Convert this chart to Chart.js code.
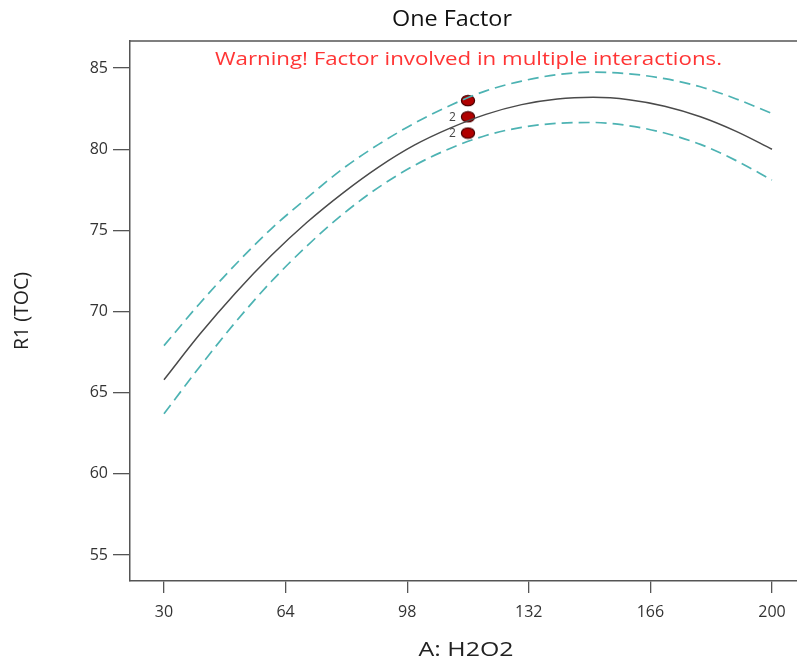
<!DOCTYPE html>
<html>
<head>
<meta charset="utf-8">
<script src="https://cdn.jsdelivr.net/npm/chart.js@4/dist/chart.umd.min.js"></script>
<style>
  html, body { margin: 0; padding: 0; background: #fff; }
  #wrap { width: 797px; height: 660px; }
</style>
</head>
<body>
<div id="wrap"><canvas id="myChart" width="797" height="660"></canvas></div>
<script>
// H2O2 dose along the x axis
const xValues = [30, 40, 50, 60, 70, 80, 90, 100, 110, 120, 130, 140, 150, 160, 170, 180, 190, 200];
// predicted TOC removal and the 95% band around it
const fitValues = [65.8, 68.6, 71.15, 73.45, 75.5, 77.3, 78.9, 80.25, 81.3, 82.15, 82.75, 83.1, 83.2, 83.05, 82.65, 82.0, 81.1, 80.0];
const upperValues = [67.9, 70.5, 72.9, 75.1, 77.0, 78.8, 80.3, 81.6, 82.7, 83.6, 84.2, 84.6, 84.75, 84.65, 84.35, 83.85, 83.1, 82.2];
const lowerValues = [63.7, 66.6, 69.35, 71.85, 74.05, 76.0, 77.65, 79.0, 80.05, 80.85, 81.35, 81.6, 81.65, 81.45, 81.0, 80.3, 79.3, 78.1];
// design runs (repeated runs share a point, count shown next to it)
const runX = [115, 115, 115];
const runY = [83, 82, 81];
const runCount = [1, 2, 2];

const xTicks = [30, 64, 98, 132, 166, 200];
const yTicks = [55, 60, 65, 70, 75, 80, 85];

const FONT = "'Open Sans', 'Noto Sans', sans-serif";
const AXIS_COLOR = '#555';
const BAND_COLOR = '#4db3b3';

const toPoints = (xs, ys) => xs.map((x, i) => ({ x: x, y: ys[i] }));

// red oval marker for the runs
const runMarker = (() => {
  const c = document.createElement('canvas');
  c.width = 16;
  c.height = 13;
  const g = c.getContext('2d');
  g.beginPath();
  g.ellipse(8, 6.5, 6.6, 5.2, 0, 0, Math.PI * 2);
  g.fillStyle = '#b00000';
  g.fill();
  g.lineWidth = 1.2;
  g.strokeStyle = '#4a0000';
  g.stroke();
  return c;
})();

// text stretched horizontally to a given width, centred on cx
const fitText = (ctx, text, cx, cy, width) => {
  const w = ctx.measureText(text).width;
  ctx.save();
  ctx.translate(cx, cy);
  ctx.scale(width / w, 1);
  ctx.fillText(text, 0, 0);
  ctx.restore();
};

// title, warning, x title, run counts and the top frame line
const overlay = {
  id: 'overlay',
  afterDraw(chart) {
    const ctx = chart.ctx;
    const area = chart.chartArea;
    const xs = chart.scales.x;
    const ys = chart.scales.y;
    ctx.save();
    ctx.strokeStyle = AXIS_COLOR;
    ctx.lineWidth = 1.5;
    ctx.beginPath();
    ctx.moveTo(area.left, area.top);
    ctx.lineTo(area.right, area.top);
    ctx.stroke();

    ctx.textAlign = 'center';
    ctx.textBaseline = 'middle';
    ctx.fillStyle = '#111';
    ctx.font = `21px ${FONT}`;
    fitText(ctx, 'One Factor', 452, 20, 120);

    ctx.fillStyle = '#ff3535';
    ctx.font = `18px ${FONT}`;
    fitText(ctx, 'Warning! Factor involved in multiple interactions.', 468.5, 60, 507);

    ctx.fillStyle = '#222';
    ctx.font = `20px ${FONT}`;
    fitText(ctx, 'A: H2O2', 466, 650, 95);

    ctx.fillStyle = '#444';
    ctx.font = `12px ${FONT}`;
    ctx.textAlign = 'right';
    runX.forEach((x, i) => {
      if (runCount[i] > 1) {
        ctx.fillText(String(runCount[i]), xs.getPixelForValue(x) - 12, ys.getPixelForValue(runY[i]) + 1);
      }
    });
    ctx.restore();
  }
};

const lineStyle = {
  showLine: true,
  pointRadius: 0,
  fill: false,
  cubicInterpolationMode: 'monotone'
};

new Chart(document.getElementById('myChart'), {
  type: 'scatter',
  data: {
    datasets: [
      {
        ...lineStyle,
        label: 'Upper',
        data: toPoints(xValues, upperValues),
        borderColor: BAND_COLOR,
        borderWidth: 1.7,
        borderDash: [11, 6]
      },
      {
        ...lineStyle,
        label: 'Lower',
        data: toPoints(xValues, lowerValues),
        borderColor: BAND_COLOR,
        borderWidth: 1.7,
        borderDash: [11, 6]
      },
      {
        ...lineStyle,
        label: 'Fit',
        data: toPoints(xValues, fitValues),
        borderColor: '#4a4a4a',
        borderWidth: 1.5
      },
      {
        label: 'Runs',
        data: toPoints(runX, runY),
        pointStyle: runMarker,
        pointRadius: 6
      }
    ]
  },
  options: {
    responsive: false,
    animation: false,
    layout: { autoPadding: false, padding: { top: 41, left: 0, right: 0, bottom: 0 } },
    plugins: {
      legend: { display: false },
      tooltip: { enabled: false }
    },
    scales: {
      x: {
        type: 'linear',
        min: 20.5,
        max: 207,
        afterFit: (scale) => {
          scale.height = 79;
          scale.paddingLeft = 0;
          scale.paddingRight = 0;
        },
        afterBuildTicks: (scale) => { scale.ticks = xTicks.map(v => ({ value: v })); },
        grid: { drawOnChartArea: false, drawTicks: true, tickLength: 12, color: AXIS_COLOR, lineWidth: 1.3 },
        border: { display: true, color: AXIS_COLOR, width: 1.5 },
        ticks: { padding: 10, color: '#333', font: { family: FONT, size: 16 }, maxRotation: 0 },
        title: { display: false }
      },
      y: {
        min: 53.4,
        max: 86.67,
        afterFit: (scale) => {
          scale.width = 130;
          scale.paddingTop = 0;
          scale.paddingBottom = 0;
        },
        afterBuildTicks: (scale) => { scale.ticks = yTicks.map(v => ({ value: v })); },
        grid: { drawOnChartArea: false, drawTicks: true, tickLength: 17, color: AXIS_COLOR, lineWidth: 1.3 },
        border: { display: true, color: AXIS_COLOR, width: 1.5 },
        ticks: { padding: 5, color: '#333', font: { family: FONT, size: 16 } },
        title: { display: true, text: 'R1 (TOC)', color: '#222', font: { family: FONT, size: 19.5 }, padding: { top: 11, bottom: 0 } }
      }
    }
  },
  plugins: [overlay]
});
</script>
</body>
</html>
